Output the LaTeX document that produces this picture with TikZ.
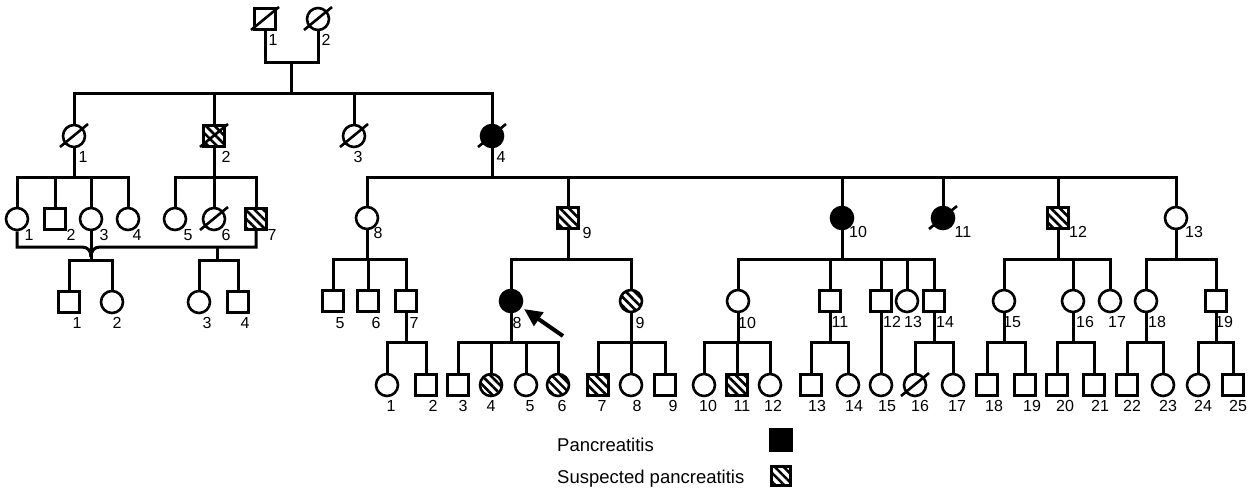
\documentclass[tikz,border=0pt]{standalone}
\usepackage{fontspec}
\setmainfont{Liberation Sans}
\usetikzlibrary{patterns.meta,arrows.meta}
\tikzset{
  ln/.style={line width=3pt, line join=miter},
  sym/.style={draw, line width=2.6pt, inner sep=0pt},
  sq/.style={sym, rectangle, minimum size=21pt},
  ci/.style={sym, circle, minimum size=22pt},
  aff/.style={fill=black},
  sus/.style={pattern={Lines[angle=-45,distance=6.2pt,line width=2.6pt]}},
  slashln/.style={line width=2.6pt},
  lab/.style={font=\fontsize{16}{18}\selectfont, inner sep=0pt},
  leg/.style={font=\fontsize{18.5}{20}\selectfont, inner sep=0pt},
}
\newcommand\deadmark[1]{\draw[slashln] ([shift={(-14,11)}]#1.center) -- ([shift={(14,-12)}]#1.center);}
\begin{document}
\begin{tikzpicture}[x=1pt,y=-1pt]
\fill[white] (0,0) rectangle (1258,490);
\useasboundingbox (0,0) rectangle (1258,490);

% ---------- Generation I ----------
\node[sq] (I1) at (265,19) {};
\node[ci] (I2) at (318,19) {};
\deadmark{I1}\deadmark{I2}
\node[lab] (lI1) at (273,40) {1};
\node[lab] (lI2) at (326,40) {2};
\coordinate (m1) at (291,62);
\coordinate (s1) at (291,93);
\draw[ln] (I1) |- (m1) -| (I2);
\draw[ln] (m1) -- (s1);

% ---------- Generation II ----------
\node[ci] (II1) at (74,136) {};
\node[sq,sus] (II2) at (214,136) {};
\node[ci] (II3) at (354,136) {};
\node[ci,aff] (II4) at (492,136) {};
\deadmark{II1}\deadmark{II2}\deadmark{II3}\deadmark{II4}
\node[lab] (lII1) at (83,157) {1};
\node[lab] (lII2) at (226,157) {2};
\node[lab] (lII3) at (358,157) {3};
\node[lab] (lII4) at (501,157) {4};
\draw[ln] (II1) |- (s1) -| (II4);
\draw[ln] (II2) -- (II2 |- s1);
\draw[ln] (II3) -- (II3 |- s1);

% ---------- Generation III (left) ----------
\node[ci] (III1) at (17,219) {};
\node[sq] (III2) at (55,219) {};
\node[ci] (III3) at (91,219) {};
\node[ci] (III4) at (128,219) {};
\node[ci] (III5) at (175,219) {};
\node[ci] (III6) at (214,219) {};
\node[sq,sus] (III7) at (256,219) {};
\deadmark{III6}
\node[lab] (lIII1) at (29,235) {1};
\node[lab] (lIII2) at (71,235) {2};
\node[lab] (lIII3) at (104,235) {3};
\node[lab] (lIII4) at (137,235) {4};
\node[lab] (lIII5) at (188,235) {5};
\node[lab] (lIII6) at (226,235) {6};
\node[lab] (lIII7) at (272,235) {7};
\coordinate (s2) at (74,177);
\coordinate (s3) at (214,177);
\draw[ln] (II1) -- (s2);
\draw[ln] (III1) |- (s2) -| (III4);
\draw[ln] (III2) -- (III2 |- s2);
\draw[ln] (III3) -- (III3 |- s2);
\draw[ln] (II2) -- (s3);
\draw[ln] (III5) |- (s3) -| (III7);
\draw[ln] (III6) -- (III6 |- s3);

% marriage lines with junction
\coordinate (ja) at (82,247);
\coordinate (jb) at (100,247);
\coordinate (j1) at (91,257);
\coordinate (s4) at (91,260);
\coordinate (s5t) at (217,247);
\coordinate (s5) at (217,260);
\draw[ln] (III1) |- (ja) .. controls (88,247) and (91,251) .. (j1);
\draw[ln] (III7) |- (jb) .. controls (94,247) and (91,251) .. (j1);
\draw[ln] (III3) -- (s4);
\draw[ln] (s5t) -- (s5);

% ---------- Generation IV (left) ----------
\node[sq] (IV1) at (69,302) {};
\node[ci] (IV2) at (112,302) {};
\node[ci] (IV3) at (199,302) {};
\node[sq] (IV4) at (238,302) {};
\node[lab] (lIV1) at (77,323) {1};
\node[lab] (lIV2) at (117,323) {2};
\node[lab] (lIV3) at (207,323) {3};
\node[lab] (lIV4) at (245,323) {4};
\draw[ln] (IV1) |- (s4) -| (IV2);
\draw[ln] (IV3) |- (s5) -| (IV4);

% ---------- Generation III (II-4 sibship) ----------
\node[ci] (III8) at (367,218) {};
\node[sq,sus] (III9) at (568,218) {};
\node[ci,aff] (III10) at (842,218) {};
\node[ci,aff] (III11) at (943,218) {};
\node[sq,sus] (III12) at (1058,218) {};
\node[ci] (III13) at (1176,218) {};
\deadmark{III11}
\node[lab] (lIII8) at (378,233) {8};
\node[lab] (lIII9) at (587,233) {9};
\node[lab] (lIII10) at (858,232) {10};
\node[lab] (lIII11) at (963,232) {11};
\node[lab] (lIII12) at (1078,232) {12};
\node[lab] (lIII13) at (1194,232) {13};
\coordinate (s6) at (492,177);
\draw[ln] (II4) -- (s6);
\draw[ln] (III8) |- (s6) -| (III13);
\foreach \n in {III9,III10,III11,III12} \draw[ln] (\n) -- (\n |- s6);

% ---------- Generation IV (right) ----------
\node[sq] (IV5) at (333,301) {};
\node[sq] (IV6) at (368,301) {};
\node[sq] (IV7) at (406,301) {};
\node[ci,aff] (IV8) at (511,301) {};
\node[ci,sus] (IV9) at (631,301) {};
\node[ci] (IV10) at (738,301) {};
\node[sq] (IV11) at (830,301) {};
\node[sq] (IV12) at (881,301) {};
\node[ci] (IV13) at (907,301) {};
\node[sq] (IV14) at (934,301) {};
\node[ci] (IV15) at (1004,301) {};
\node[ci] (IV16) at (1073,301) {};
\node[ci] (IV17) at (1110,301) {};
\node[ci] (IV18) at (1146,301) {};
\node[sq] (IV19) at (1216,301) {};
\node[lab] (lIV5) at (340,323) {5};
\node[lab] (lIV6) at (376,323) {6};
\node[lab] (lIV7) at (414,323) {7};
\node[lab] (lIV8) at (517,323) {8};
\node[lab] (lIV9) at (640,323) {9};
\node[lab] (lIV10) at (747,323) {10};
\node[lab] (lIV11) at (840,322) {11};
\node[lab] (lIV12) at (892,322) {12};
\node[lab] (lIV13) at (913,322) {13};
\node[lab] (lIV14) at (945,322) {14};
\node[lab] (lIV15) at (1012,322) {15};
\node[lab] (lIV16) at (1085,322) {16};
\node[lab] (lIV17) at (1117,322) {17};
\node[lab] (lIV18) at (1157,322) {18};
\node[lab] (lIV19) at (1224,322) {19};
\coordinate (s7) at (367,259);
\coordinate (s8) at (568,259);
\coordinate (s9) at (842,259);
\coordinate (s10) at (1058,259);
\coordinate (s11) at (1176,259);
\draw[ln] (III8) -- (s7);
\draw[ln] (IV5) |- (s7) -| (IV7);
\draw[ln] (IV6) -- (IV6 |- s7);
\draw[ln] (III9) -- (s8);
\draw[ln] (IV8) |- (s8) -| (IV9);
\draw[ln] (III10) -- (s9);
\draw[ln] (IV10) |- (s9) -| (IV14);
\foreach \n in {IV11,IV12,IV13} \draw[ln] (\n) -- (\n |- s9);
\draw[ln] (III12) -- (s10);
\draw[ln] (IV15) |- (s10) -| (IV17);
\draw[ln] (IV16) -- (IV16 |- s10);
\draw[ln] (III13) -- (s11);
\draw[ln] (IV18) |- (s11) -| (IV19);

% ---------- Generation V ----------
\node[ci] (V1) at (387,385) {};
\node[sq] (V2) at (426,385) {};
\node[sq] (V3) at (458,385) {};
\node[ci,sus] (V4) at (491,385) {};
\node[ci] (V5) at (526,385) {};
\node[ci,sus] (V6) at (558,385) {};
\node[sq,sus] (V7) at (598,385) {};
\node[ci] (V8) at (631,385) {};
\node[sq] (V9) at (665,385) {};
\node[ci] (V10) at (704,385) {};
\node[sq,sus] (V11) at (737,385) {};
\node[ci] (V12) at (770,385) {};
\node[sq] (V13) at (811,385) {};
\node[ci] (V14) at (848,385) {};
\node[ci] (V15) at (881,385) {};
\node[ci] (V16) at (915,385) {};
\node[ci] (V17) at (953,385) {};
\node[sq] (V18) at (987,385) {};
\node[sq] (V19) at (1025,385) {};
\node[sq] (V20) at (1057,385) {};
\node[sq] (V21) at (1094,385) {};
\node[sq] (V22) at (1127,385) {};
\node[ci] (V23) at (1163,385) {};
\node[ci] (V24) at (1198,385) {};
\node[sq] (V25) at (1233,385) {};
\deadmark{V16}
\node[lab] (lV1) at (391,406) {1};
\node[lab] (lV2) at (433,406) {2};
\node[lab] (lV3) at (463,406) {3};
\node[lab] (lV4) at (491,406) {4};
\node[lab] (lV5) at (530,406) {5};
\node[lab] (lV6) at (562,406) {6};
\node[lab] (lV7) at (602,406) {7};
\node[lab] (lV8) at (637,406) {8};
\node[lab] (lV9) at (673,406) {9};
\node[lab] (lV10) at (708,406) {10};
\node[lab] (lV11) at (742,406) {11};
\node[lab] (lV12) at (773,406) {12};
\node[lab] (lV13) at (817,406) {13};
\node[lab] (lV14) at (854,406) {14};
\node[lab] (lV15) at (887,406) {15};
\node[lab] (lV16) at (920,406) {16};
\node[lab] (lV17) at (957,406) {17};
\node[lab] (lV18) at (994,406) {18};
\node[lab] (lV19) at (1032,406) {19};
\node[lab] (lV20) at (1065,406) {20};
\node[lab] (lV21) at (1100,406) {21};
\node[lab] (lV22) at (1132,406) {22};
\node[lab] (lV23) at (1168,406) {23};
\node[lab] (lV24) at (1203,406) {24};
\node[lab] (lV25) at (1238,406) {25};
\coordinate (t1) at (406,342);
\coordinate (t2) at (511,342);
\coordinate (t3) at (631,342);
\coordinate (t4) at (738,342);
\coordinate (t5) at (830,342);
\coordinate (t6) at (934,342);
\coordinate (t7) at (1004,342);
\coordinate (t8) at (1073,342);
\coordinate (t9) at (1146,342);
\coordinate (t10) at (1216,342);
\draw[ln] (IV7) -- (t1);  \draw[ln] (V1) |- (t1) -| (V2);
\draw[ln] (IV8) -- (t2);  \draw[ln] (V3) |- (t2) -| (V6);
\foreach \n in {V4,V5} \draw[ln] (\n) -- (\n |- t2);
\draw[ln] (IV9) -- (t3);  \draw[ln] (V7) |- (t3) -| (V9);
\draw[ln] (V8) -- (V8 |- t3);
\draw[ln] (IV10) -- (t4); \draw[ln] (V10) |- (t4) -| (V12);
\draw[ln] (V11) -- (V11 |- t4);
\draw[ln] (IV11) -- (t5); \draw[ln] (V13) |- (t5) -| (V14);
\draw[ln] (IV12) -- (V15);
\draw[ln] (IV14) -- (t6); \draw[ln] (V16) |- (t6) -| (V17);
\draw[ln] (IV15) -- (t7); \draw[ln] (V18) |- (t7) -| (V19);
\draw[ln] (IV16) -- (t8); \draw[ln] (V20) |- (t8) -| (V21);
\draw[ln] (IV18) -- (t9); \draw[ln] (V22) |- (t9) -| (V23);
\draw[ln] (IV19) -- (t10); \draw[ln] (V24) |- (t10) -| (V25);

% proband arrow
\coordinate (arrH) at (524,309);
\coordinate (arrT) at (563,336);
\draw[line width=4pt, -{Triangle[width=16pt,length=18pt]}] (arrT) -- (arrH);

% ---------- Legend ----------
\node[leg, anchor=base west] (legA) at (557,451) {Pancreatitis};
\node[leg, anchor=base west] (legB) at (557,483) {Suspected pancreatitis};
\node[sq, aff, minimum size=21pt] (keyA) at (781,440) {};
\node[sq, sus, minimum size=19pt] (keyB) at (781,476) {};
\end{tikzpicture}
\end{document}
